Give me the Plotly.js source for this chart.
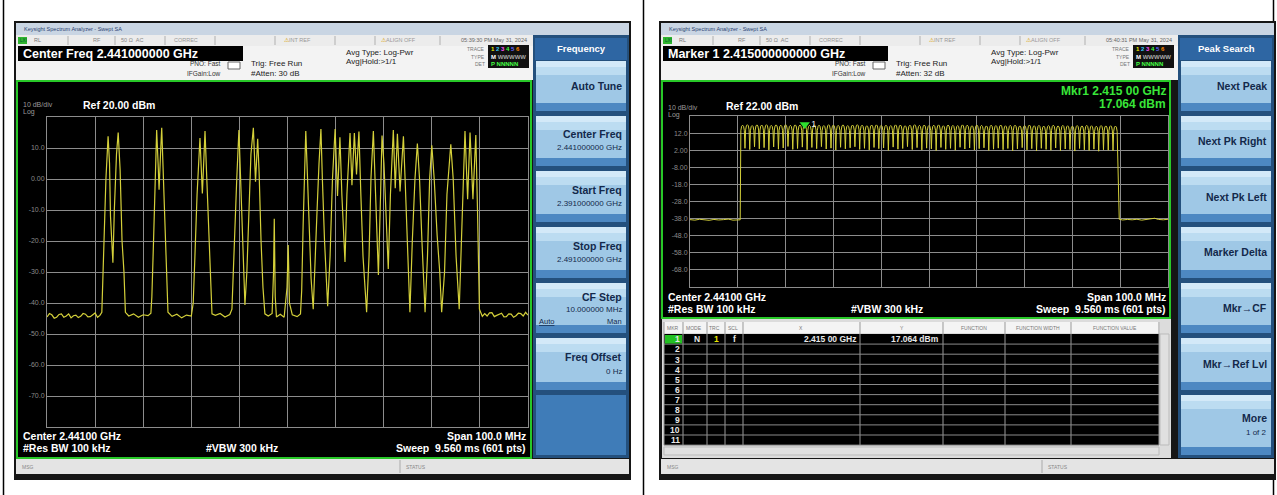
<!DOCTYPE html>
<html><head><meta charset="utf-8">
<script src="https://cdn.plot.ly/plotly-3.0.1.min.js"></script>
<style>html,body{margin:0;padding:0;background:#fff;}#chart{width:1277px;height:495px;}</style>
</head><body><div id="chart"></div>
<script>
// ---------------- DATA ----------------
// Left screen: hopping bursts, frequency (MHz) vs level (dBm)
const leftFreqMHz = [2391,2391.5,2392,2392.5,2393,2393.5,2394,2394.5,2395,2395.5,2396,2396.5,2397,2397.5,2398,2398.5,2399,2399.5,2400,2400.5,2401,2401.5,2402,
 2402.4,2402.7,2403.25,2403.7,2404.0,2404.2,2404.7,2405.0,2405.45,2405.8,2406.2,2406.6,2407.0,2407.3,
 2408,2409,2410,2411,2412,2412.6,
 2412.8,2413.15,2413.45,2413.8,2414.1,2414.3,2414.6,2414.85,2415.1,2415.45,2415.75,2416.15,
 2417,2418,2419,2420,2421,
 2421.4,2421.75,2422.2,2422.8,2423.1,2423.3,2423.6,2423.85,2424.15,2424.6,2424.9,2425.3,
 2426,2427,2428,2429,
 2429.45,2429.9,2430.45,2430.9,2431.35,2431.75,2432.15,2432.55,2433.1,2433.4,2433.9,2434.35,2434.8,2435.1,2435.5,2435.9,2436.3,
 2437,2437.8,2438.1,2438.25,2438.45,2438.7,2439.5,2440.3,2440.9,2441.15,2441.4,2442,2443,2443.7,
 2443.95,2444.25,2444.55,2444.8,2445.1,2445.45,2445.9,2446.35,2446.7,2447.15,2447.55,2447.95,2448.25,2448.7,2449.35,
 2449.85,2450.35,2450.9,2451.4,2451.9,2452.3,2452.95,2453.35,2454.0,2454.4,2454.9,2455.35,2455.85,2456.25,2456.7,2457.45,
 2457.95,2458.35,2458.85,2459.2,2459.9,2460.35,2460.65,2461.05,2461.5,2461.95,2462.4,2463.0,2463.4,2463.85,2464.4,2465.1,
 2465.45,2465.9,2466.45,2466.95,2467.5,2468.0,2468.45,2468.95,2469.6,2470.1,2470.55,2471.0,2471.5,2472.1,2472.65,2473.05,
 2473.65,2474.15,2474.95,2475.45,2476.05,2476.7,2477.15,2477.5,2477.9,2478.45,2478.95,2479.55,2480.15,2480.5,2480.9,
 2481.5,2482,2482.5,2483,2483.5,2484,2484.5,2485,2485.5,2486,2486.5,2487,2487.5,2488,2488.5,2489,2489.5,2490,2490.5,2491];
const leftLevelDbm = [-44.5,-43.4,-43.8,-44.9,-44.6,-43.7,-43.5,-44.6,-44.2,-43.5,-44.8,-44.1,-43.9,-44.7,-44.3,-43.4,-43.6,-44.5,-44.4,-43.8,-43.2,-44.6,-44.0,
 -43,-28,0,13.8,5,-12,-27,-10,8,15,3,-20,-30,-43,
 -44.2,-43.5,-44.6,-43.8,-44.1,-43.3,
 -38,-20,0,15.8,5,-3.5,8,16.5,5,-12,-28,-43,
 -44.3,-43.6,-44.8,-43.9,-44.2,
 -40,-25,-5,13.2,3,-4.7,6,15.5,3,-15,-30,-43.5,
 -44.0,-43.4,-44.5,-43.7,
 -42,-20,0,15.8,-5,-28,-40.6,-30,-5,8,16.5,-0.9,13,2,-20,-35,-43.5,
 -44.2,-43.4,-30,-12.8,-38,-44.5,-43.6,-44.6,-35,-21.3,-40,-43.8,-44.4,-43.5,
 -36,-15,5,15.5,3,-15,-32,-42,-30,-10,5,16.1,0,-20,-41,
 -25,0,16.1,-5.5,13.5,-5,-26.8,-5,14.8,-2,14.8,1.5,15.3,-5,-25,-43,
 -25,0,15.5,0,-31,-5,14,5,-12,-29,-5,15.8,-3,14.6,-4,13.8,
 0,-20,-43,-20,0,11.4,0,-20,-43,-25,0,10.9,0,-18,-30,-43,
 -30,-5,11.2,0,-25,-42,-20,0,15.5,-6.5,15,-6.5,14.2,-10,-42,
 -44.3,-43.4,-44.2,-43.2,-43.1,-44.4,-44.0,-43.6,-43.3,-44.5,-44.4,-43.5,-43.6,-44.6,-44.1,-43.3,-43.4,-44.2,-43.0,-43.9];

// Right screen: 79 occupied channels (MHz), per-channel peak and inter-channel dip (dBm)
const rightChannelMHz = [2402,2403,2404,2405,2406,2407,2408,2409,2410,2411,2412,2413,2414,2415,2416,2417,2418,2419,2420,
 2421,2422,2423,2424,2425,2426,2427,2428,2429,2430,2431,2432,2433,2434,2435,2436,2437,2438,2439,2440,2441,2442,2443,2444,
 2445,2446,2447,2448,2449,2450,2451,2452,2453,2454,2455,2456,2457,2458,2459,2460,2461,2462,2463,2464,2465,2466,2467,2468,
 2469,2470,2471,2472,2473,2474,2475,2476,2477,2478,2479,2480];
const rightPeakDbm = [16.6,16.9,16.4,16.8,16.7,16.9,16.5,16.8,16.6,16.9,16.5,16.8,16.7,17.06,16.5,16.8,16.6,16.4,16.9,
 16.7,16.5,16.8,16.4,16.7,16.9,16.6,16.3,16.7,16.8,16.5,16.6,16.4,16.8,16.7,16.3,16.6,16.9,16.5,16.7,16.4,16.6,16.8,16.3,
 16.7,16.5,16.4,16.8,16.6,16.3,16.7,16.5,16.2,16.6,16.4,16.7,16.3,16.5,16.6,16.2,16.4,16.7,16.3,16.5,16.1,16.4,16.6,16.2,
 16.5,16.3,16.1,16.4,16.2,16.5,16.3,16.0,16.4,16.2,16.3,16.1];
const rightDipDbm = [3.1,2.4,4.0,2.8,3.5,2.2,3.9,2.6,3.3,4.2,2.5,3.0,3.8,2.3,3.6,2.9,4.1,2.7,3.2,2.1,3.7,2.8,3.4,4.0,2.5,
 3.1,2.2,3.6,2.9,3.3,1.9,3.8,2.6,3.0,4.1,2.4,3.5,2.2,3.2,2.8,1.8,3.6,2.5,3.1,2.0,3.7,2.7,3.3,2.1,2.9,3.4,1.9,2.6,3.2,2.3,
 3.0,1.7,2.8,3.5,2.2,2.9,1.6,3.1,2.5,2.0,3.3,1.8,2.7,2.4,1.5,3.0,2.2,1.9,2.6,1.4,2.3,2.0,1.8];
const rightLowFreqMHz = [2391,2392,2393,2394,2395,2396,2397,2398,2399,2400,2401,2401.5];
const rightLowLevelDbm = [-38.6,-38.9,-38.4,-38.7,-39.0,-38.5,-38.8,-38.6,-38.3,-38.9,-38.5,-38.7];
const rightHighFreqMHz = [2480.8,2481.5,2482.5,2483.5,2484.5,2485.5,2486.5,2487.5,2488.2,2489,2490,2491];
const rightHighLevelDbm = [-38.4,-38.8,-38.5,-38.7,-38.4,-38.9,-38.6,-38.3,-37.8,-38.5,-38.7,-38.4];

// Marker 1
const markerFreqMHz = [2415.0];
const markerLevelDbm = [17.064];

// Tick labels
const leftTickVals = [10,0,-10,-20,-30,-40,-50,-60,-70];
const leftTickText = ['10.0','0.00','-10.0','-20.0','-30.0','-40.0','-50.0','-60.0','-70.0'];
const rightTickVals = [12,2,-8,-18,-28,-38,-48,-58,-68];
const rightTickText = ['12.0','2.00','-8.00','-18.0','-28.0','-38.0','-48.0','-58.0','-68.0'];

// Soft-key labels
const leftKeys = [['Auto Tune',''],['Center Freq','2.441000000 GHz'],['Start Freq','2.391000000 GHz'],
 ['Stop Freq','2.491000000 GHz'],['CF Step','10.000000 MHz'],['Freq Offset','0 Hz']];
const rightKeys = [['Next Peak',''],['Next Pk Right',''],['Next Pk Left',''],['Marker Delta',''],
 ['Mkr\u2192CF',''],['Mkr\u2192Ref Lvl',''],['More','1 of 2']];

// ---------------- BUILD ----------------
const rx = rightLowFreqMHz.slice(), ry = rightLowLevelDbm.slice();
rightChannelMHz.forEach((c,k)=>{
  const p = rightPeakDbm[k];
  rx.push(c-0.36, c-0.2, c, c+0.2, c+0.36);
  ry.push(p-3, p-0.6, p, p-0.6, p-3);
  if (k < rightChannelMHz.length-1) { rx.push(c+0.5); ry.push(rightDipDbm[k]); }
});
rx.push(...rightHighFreqMHz); ry.push(...rightHighLevelDbm);

const W=1277,H=495;
const shapes=[], ann=[];
const FF='Liberation Sans, Arial, sans-serif';
function box(x0,y0,x1,y1,fill,lc,lw){shapes.push({type:'rect',xref:'paper',yref:'paper',x0:x0/W,x1:x1/W,y0:1-y1/H,y1:1-y0/H,
  fillcolor:fill||'rgba(0,0,0,0)',line:{color:lc||'rgba(0,0,0,0)',width:lw||0},layer:'below'});}
function ln(x0,y0,x1,y1,c,w){shapes.push({type:'line',xref:'paper',yref:'paper',x0:x0/W,x1:x1/W,y0:1-y0/H,y1:1-y1/H,line:{color:c,width:w||1},layer:'below'});}
function txt(x,y,t,size,color,anchor,bold){ann.push({xref:'paper',yref:'paper',x:x/W,y:1-y/H,text:bold?'<b>'+t+'</b>':t,
  showarrow:false,xanchor:anchor||'left',yanchor:'middle',borderpad:0,font:{size:size,color:color,family:FF}});}

// page frame lines
ln(3.5,0,3.5,495,'#000',1.5); ln(643.5,0,643.5,495,'#000',1.5); ln(1273.5,0,1273.5,495,'#000',1.5);

function screen(ox, o){
  box(ox+14,21,ox+631,480,'#161616');
  box(ox+16,23,ox+629,35,'#c9d5e3');
  txt(ox+23,29,'Keysight Spectrum Analyzer - Swept SA',5.5,'#2a3f70');
  box(ox+16,35,ox+533,46,'#ececec');
  box(ox+18,37,ox+27,44,'#2fb52f'); txt(ox+19,40.5,'LXI',4.5,'#053');
  txt(ox+33,40.5,'RL',5.5,'#777'); txt(ox+92,40.5,'RF',5.5,'#888');
  txt(ox+120,40.5,'50 \u03a9  AC',5.5,'#888'); txt(ox+173,40.5,'CORREC',5.5,'#999');
  [68,115,165,215,275,335,375,440].forEach(x=>ln(ox+x,36,ox+x,45,'#b0b0b0',1));
  txt(ox+283,40.5,'<span style="color:#d8a000">\u26a0</span>INT REF',5.5,'#999');
  txt(ox+380,40.5,'<span style="color:#d8a000">\u26a0</span>ALIGN OFF',5.5,'#999');
  txt(ox+528,40.5,o.time,5.5,'#666','right');
  box(ox+16,46,ox+533,80,'#f3f3f3');
  box(ox+18,46,ox+243,61,'#000');
  txt(ox+22,53.5,o.head,12.5,'#fff','left',true);
  txt(ox+222,64,'PNO: Fast',6.5,'#333','right'); txt(ox+222,73,'IFGain:Low',6.5,'#333','right');
  box(ox+228,62,ox+240,69,'#fff','#666',1);
  txt(ox+250,64,'Trig: Free Run',8,'#222'); txt(ox+250,73,o.atten,8,'#222');
  txt(ox+345,52,'Avg Type: Log-Pwr',8,'#222'); txt(ox+345,61,'Avg|Hold:>1/1',8,'#222');
  txt(ox+486,49,'TRACE',5,'#777','right'); txt(ox+486,57,'TYPE',5,'#777','right'); txt(ox+486,64,'DET',5,'#777','right');
  box(ox+488,45,ox+529,68,'#111');
  txt(ox+490,49.5,'<span style="color:#ee0">1</span> <span style="color:#3cf">2</span> <span style="color:#f5f">3</span> <span style="color:#4f4">4</span> <span style="color:#66f">5</span> <span style="color:#f80">6</span>',6,'#fff','left',true);
  txt(ox+490,57,'M <span style="color:#aaa">WWWWW</span>',6,'#fff','left',true);
  txt(ox+490,64,'<span style="color:#4f4">P NNNNN</span>',6,'#fff','left',true);
  // msg bar
  box(ox+16,459,ox+629,474,'#e4e4e4');
  txt(ox+21,466.5,'MSG',5,'#888'); ln(ox+o.statusX-5,460,ox+o.statusX-5,473,'#aaa',1);
  txt(ox+o.statusX,466.5,'STATUS',5,'#888');
  // soft panel
  box(ox+533,35,ox+629,458,'#24507d');
  box(ox+535,38,ox+627,60,'#2e66a3');
  txt(ox+581,48.5,o.menu,9.5,'#fff','center',true);
  const ys=[61,116,171,227,283,338,395];
  o.keys.forEach((k,i)=>{
    const y0=ys[i], y1=(i<6?ys[i+1]-5:455);
    box(ox+536,y0,ox+626,y1,'#9fc8e6'); box(ox+536,y0,ox+626,y0+6,'#d3e9f8'); box(ox+536,y0+6,ox+626,y0+14,'#bcdcf1');
    box(ox+536,y1-8,ox+626,y1,'#4d88c2');
    const mid=(y0+y1)/2;
    if(o.special && o.special[i]){ const s=o.special[i]; txt(ox+623,s[0],k[0],10.5,'#13294b','right',true); txt(ox+623,s[1],k[1],8,'#13294b','right'); }
    else if(k[1]){ txt(ox+623,mid-7,k[0],10.5,'#13294b','right',true); txt(ox+623,mid+7,k[1],8,'#13294b','right'); }
    else txt(ox+623,mid,k[0],10.5,'#13294b','right',true);
  });
  if (o.keys.length<7){ box(ox+536,395,ox+626,455,'#3f7cb8'); }
}
screen(0,{time:'05:39:30 PM May 31, 2024',head:'Center Freq 2.441000000 GHz',atten:'#Atten: 30 dB',menu:'Frequency',keys:leftKeys,statusX:405,special:{4:[297,309]}});
screen(645,{time:'05:40:31 PM May 31, 2024',head:'Marker 1 2.415000000000 GHz',atten:'#Atten: 32 dB',menu:'Peak Search',keys:rightKeys,statusX:402});

// left CF step extras
txt(538,321,'<u>Auto</u>',7.5,'#13294b'); txt(623,321,'Man',7.5,'#13294b','right');

// left screen
box(17,81,531,458,'#000','#28c828',2);
txt(22,104,'10 dB/div',7,'#9a9a9a'); txt(22,112,'Log',7,'#9a9a9a');
txt(82,105,'Ref 20.00 dBm',10.5,'#fff','left',true);
txt(22,436,'Center 2.44100 GHz',10.5,'#fff','left',true);
txt(22,448,'#Res BW 100 kHz',10.5,'#fff','left',true);
txt(205,448,'#VBW 300 kHz',10.5,'#fff','left',true);
txt(527,436,'Span 100.0 MHz',10.5,'#fff','right',true);
txt(527,448,'Sweep  9.560 ms (601 pts)',10.5,'#fff','right',true);

// right screen
box(662,81,1170,318,'#000','#28c828',2);
txt(667,107,'10 dB/div',7,'#9a9a9a'); txt(667,115,'Log',7,'#9a9a9a');
txt(725,106,'Ref 22.00 dBm',10.5,'#fff','left',true);
const mkF = (markerFreqMHz[0]/1000).toFixed(5), mkFs = mkF.slice(0,5)+' '+mkF.slice(5);
txt(1167,91,'Mkr1 '+mkFs+' GHz',12,'#39e639','right',true);
txt(1167,104,markerLevelDbm[0].toFixed(3)+' dBm',12,'#39e639','right',true);
txt(667,297,'Center 2.44100 GHz',10.5,'#fff','left',true);
txt(667,309,'#Res BW 100 kHz',10.5,'#fff','left',true);
txt(850,309,'#VBW 300 kHz',10.5,'#fff','left',true);
txt(1167,297,'Span 100.0 MHz',10.5,'#fff','right',true);
txt(1167,309,'Sweep  9.560 ms (601 pts)',10.5,'#fff','right',true);

// marker table
box(662,319,1171,458,'#dcdcdc');
box(664,322,1160,333,'#f4f4f4');
box(664,334,1159,445,'#000');
box(1160,334,1169,445,'#e0e0e0','#bbb',1);
box(664,447,1159,455,'#e0e0e0','#bbb',1);
const cols=[664,683,707,725,743,860,943,1005,1071,1159];
const heads=['MKR','MODE','TRC','SCL','X','Y','FUNCTION','FUNCTION WIDTH','FUNCTION VALUE'];
cols.forEach(x=>ln(x,322,x,445,'#999',1));
heads.forEach((h,i)=>{ const c=(cols[i]+cols[i+1])/2; txt(i<4?cols[i]+1.5:c,327.5,h,5,'#777',i<4?'left':'center'); });
for(let r=0;r<11;r++){ const y=334+r*10.1; ln(664,y+10.1,1159,y+10.1,'#8a8a8a',1);
  if(r===0) box(665,y+1,682,y+9.5,'#22c022');
  txt(681,y+5.3,String(r+1),8.5,'#e8e8e8','right',true); }
txt(697,339.3,'N',8.5,'#e8e8e8','center',true);
txt(716,339.3,'1',8.5,'#e8e800','center',true);
txt(734,339.3,'f',8.5,'#e8e8e8','center',true);
txt(857,339.3,mkFs+' GHz',8.5,'#e8e8e8','right',true);
txt(940,339.3,markerLevelDbm[0].toFixed(3)+' dBm',8.5,'#e8e8e8','right',true);

// ---------------- PLOT ----------------
const grid='#8c8c8c';
const traces=[
 {x:leftFreqMHz,y:leftLevelDbm,xaxis:'x',yaxis:'y',mode:'lines',line:{color:'#d4d03a',width:1.2},hoverinfo:'skip'},
 {x:rx,y:ry,xaxis:'x2',yaxis:'y2',mode:'lines',line:{color:'#d4d03a',width:1},hoverinfo:'skip'},
 {x:markerFreqMHz,y:markerLevelDbm,xaxis:'x2',yaxis:'y2',mode:'markers+text',text:['1'],textposition:'middle right',
  textfont:{color:'#e8e8e8',size:9,family:FF},marker:{symbol:'triangle-down',size:9,color:'#2ee02e'},cliponaxis:false,hoverinfo:'skip'}
];
function xa(d){return {domain:d,range:[2391,2491],tickmode:'linear',tick0:2391,dtick:10,showticklabels:false,ticks:'',
  showgrid:true,gridcolor:grid,gridwidth:1,zeroline:false,showline:true,mirror:true,linecolor:grid,linewidth:1,fixedrange:true};}
function ya(d,r,tv,tt){return {domain:d,range:r,tickmode:'array',tickvals:tv,ticktext:tt,ticks:'',ticklen:0,
  tickfont:{size:7,color:'#8a8a8a',family:FF},showgrid:true,gridcolor:grid,gridwidth:1,zeroline:false,showline:true,mirror:true,
  linecolor:grid,linewidth:1,fixedrange:true};}
const layout={width:W,height:H,margin:{l:0,r:0,t:0,b:0},paper_bgcolor:'#fff',plot_bgcolor:'#000',showlegend:false,
 xaxis:xa([47/W,528/W]), yaxis:ya([1-427/H,1-117/H],[-80,20],leftTickVals,leftTickText),
 xaxis2:Object.assign(xa([690/W,1168/W]),{anchor:'y2'}), yaxis2:Object.assign(ya([1-287/H,1-116/H],[-78,22],rightTickVals,rightTickText),{anchor:'x2'}),
 shapes:shapes, annotations:ann};
layout.xaxis.anchor='y'; layout.yaxis.anchor='x';
Plotly.newPlot('chart',traces,layout,{staticPlot:true,displayModeBar:false});
</script></body></html>
